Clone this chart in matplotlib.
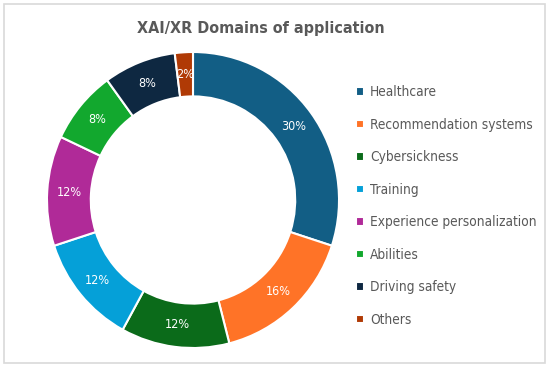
import matplotlib
matplotlib.use("Agg")
import matplotlib.pyplot as plt
import numpy as np
from matplotlib.patches import Rectangle

categories = ["Healthcare", "Recommendation systems", "Cybersickness", "Training",
              "Experience personalization", "Abilities", "Driving safety", "Others"]
shares = [30, 16, 12, 12, 12, 8, 8, 2]
colors = ["#125E85", "#FF7327", "#0B6B1A", "#05A0D8", "#B02A98", "#12A82E", "#0E2841", "#B03A05"]

plt.rcParams["font.family"] = ["DejaVu Sans"]
plt.rcParams["font.stretch"] = "condensed"

fig = plt.figure(figsize=(5.5, 3.7), dpi=100)
fig.patches.append(Rectangle((4 / 550, 7 / 370), 541 / 550, 359 / 370, transform=fig.transFigure,
                             fill=False, edgecolor="#D9D9D9", linewidth=1.2))

fig.text(261 / 550, 1 - 28 / 370, "XAI/XR Domains of application", ha="center", va="center",
         fontsize=11.5, fontweight="bold", color="#595959")

# donut centre ~ (193, 200), outer r ~146 px wide, 148 px tall
ax = fig.add_axes([(193 - 148) / 550, (170 - 150) / 370, 296 / 550, 300 / 370])
r_out = 148 / 150
wedges, _ = ax.pie(shares, colors=colors, startangle=90, counterclock=False, radius=r_out,
                   wedgeprops=dict(width=r_out * 0.30, edgecolor="white", linewidth=1.5))
ax.set_xlim(-1, 1)
ax.set_ylim(-1, 1)
ax.set_aspect("auto")
ax.axis("off")

r_lab = r_out * 0.85
for v, w in zip(shares, wedges):
    mid = np.deg2rad((w.theta1 + w.theta2) / 2)
    ax.text(r_lab * np.cos(mid), r_lab * np.sin(mid), f"{v}%", ha="center", va="center",
            color="white", fontsize=9)

leg = fig.legend(wedges, categories, loc="upper left", bbox_to_anchor=(344 / 550, 1 - 73 / 370),
                 frameon=False, fontsize=9.8, labelcolor="#595959", handlelength=0.55,
                 handleheight=0.55, handletextpad=0.45, labelspacing=1.36)

fig.savefig("out.png", dpi=100)
